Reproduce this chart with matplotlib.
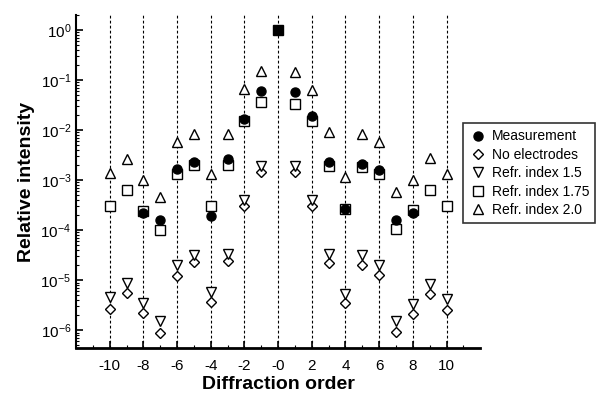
import numpy as np
import matplotlib
matplotlib.use("Agg")
import matplotlib.pyplot as plt
from matplotlib.ticker import FixedLocator, FixedFormatter, LogLocator, NullFormatter

plt.rcParams['font.family'] = ['Liberation Sans', 'DejaVu Sans']
plt.rcParams['mathtext.fontset'] = 'custom'
plt.rcParams['mathtext.rm'] = 'Liberation Sans'
plt.rcParams['mathtext.it'] = 'Liberation Sans'

# diffraction orders for the models (-10 .. 10 without 0)
orders = [-10, -9, -8, -7, -6, -5, -4, -3, -2, -1, 1, 2, 3, 4, 5, 6, 7, 8, 9, 10]
meas_orders = [-8, -7, -6, -5, -4, -3, -2, -1, 1, 2, 3, 4, 5, 6, 7, 8]

measurement = [2.2e-4, 1.6e-4, 1.7e-3, 2.3e-3, 1.9e-4, 2.7e-3, 1.7e-2, 6.2e-2,
               5.8e-2, 1.9e-2, 2.3e-3, 2.7e-4, 2.1e-3, 1.6e-3, 1.6e-4, 2.2e-4]
no_electrodes = [2.7e-6, 5.6e-6, 2.2e-6, 9.0e-7, 1.2e-5, 2.3e-5, 3.7e-6, 2.4e-5, 3.0e-4, 1.45e-3,
                 1.45e-3, 3.0e-4, 2.2e-5, 3.5e-6, 2.0e-5, 1.25e-5, 9.3e-7, 2.1e-6, 5.2e-6, 2.5e-6]
refr_15 = [4.6e-6, 9.0e-6, 3.5e-6, 1.5e-6, 2.0e-5, 3.2e-5, 5.9e-6, 3.4e-5, 4.0e-4, 1.9e-3,
           1.9e-3, 4.0e-4, 3.3e-5, 5.4e-6, 3.2e-5, 2.0e-5, 1.5e-6, 3.4e-6, 8.5e-6, 4.3e-6]
refr_175 = [3.0e-4, 6.3e-4, 2.4e-4, 1.0e-4, 1.3e-3, 2.0e-3, 3.0e-4, 2.0e-3, 1.5e-2, 3.7e-2,
            3.4e-2, 1.5e-2, 1.9e-3, 2.6e-4, 1.8e-3, 1.35e-3, 1.07e-4, 2.5e-4, 6.3e-4, 3.0e-4]
refr_20 = [1.4e-3, 2.7e-3, 1.0e-3, 4.6e-4, 5.8e-3, 8.3e-3, 1.35e-3, 8.3e-3, 6.5e-2, 0.155,
           0.145, 6.3e-2, 9.0e-3, 1.17e-3, 8.2e-3, 5.8e-3, 5.8e-4, 1.0e-3, 2.8e-3, 1.35e-3]

zero_order = [0]
zero_value = [1.0]

line_orders = [-10, -8, -6, -4, -2, 0, 2, 4, 6, 8, 10]
tick_labels = ['-10', '-8', '-6', '-4', '-2', '-0', '2', '4', '6', '8', '10']


fig = plt.figure(figsize=(6.04, 3.96), dpi=100)
ax = fig.add_axes([0.126, 0.121, 0.669, 0.841])

for x in line_orders:
    ax.axvline(x, color='black', lw=0.8, ls=(0, (2.5, 2)), zorder=1)

ax.plot(meas_orders, measurement, 'o', ms=6.5, mfc='black', mec='black', ls='none',
        label='Measurement', zorder=5)
ax.plot(orders, no_electrodes, 'D', ms=5.2, mfc='white', mec='black', mew=1.0, ls='none',
        label='No electrodes', zorder=3)
ax.plot(orders, refr_15, 'v', ms=6.5, mfc='white', mec='black', mew=1.0, ls='none',
        label='Refr. index 1.5', zorder=3)
ax.plot(orders, refr_175, 's', ms=6.5, mfc='white', mec='black', mew=1.0, ls='none',
        label='Refr. index 1.75', zorder=4)
ax.plot(orders, refr_20, '^', ms=6.5, mfc='white', mec='black', mew=1.0, ls='none',
        label='Refr. index 2.0', zorder=3)
ax.plot(zero_order, zero_value, 's', ms=7.5, mfc='black', mec='black', ls='none', zorder=6)

ax.set_yscale('log')
ax.set_xlim(-12, 12)
ax.set_ylim(4.4e-7, 2.0)

ax.xaxis.set_major_locator(FixedLocator(line_orders))
ax.xaxis.set_major_formatter(FixedFormatter(tick_labels))
ax.xaxis.set_minor_locator(FixedLocator(list(range(-11, 12, 2))))
ax.yaxis.set_major_locator(FixedLocator([1e-6, 1e-5, 1e-4, 1e-3, 1e-2, 1e-1, 1e0]))
ax.yaxis.set_major_formatter(FixedFormatter(['$10^{-6}$', '$10^{-5}$', '$10^{-4}$', '$10^{-3}$',
                                             '$10^{-2}$', '$10^{-1}$', '$10^{0}$']))
ax.yaxis.set_minor_locator(LogLocator(base=10, subs=np.arange(2, 10)))
ax.yaxis.set_minor_formatter(NullFormatter())

ax.tick_params(axis='both', which='major', direction='in', length=5, width=1.2, labelsize=11)
ax.tick_params(axis='both', which='minor', direction='in', length=2.5, width=0.8)
ax.tick_params(axis='x', pad=8)

ax.spines['top'].set_visible(False)
ax.spines['right'].set_visible(False)
ax.spines['left'].set_linewidth(1.5)
ax.spines['bottom'].set_linewidth(2)

ax.set_xlabel('Diffraction order', fontsize=14, fontweight='bold', labelpad=2)
ax.set_ylabel('Relative intensity', fontsize=14, fontweight='bold', labelpad=4)

leg = ax.legend(loc='upper left', bbox_to_anchor=(0.767, 0.689), bbox_transform=fig.transFigure,
                fontsize=10, frameon=True, fancybox=False, edgecolor='black',
                handletextpad=0.4, borderpad=0.45, labelspacing=0.32, handlelength=1.2,
                borderaxespad=0)
leg.get_frame().set_linewidth(1.2)

fig.savefig('out.png', dpi=100)
